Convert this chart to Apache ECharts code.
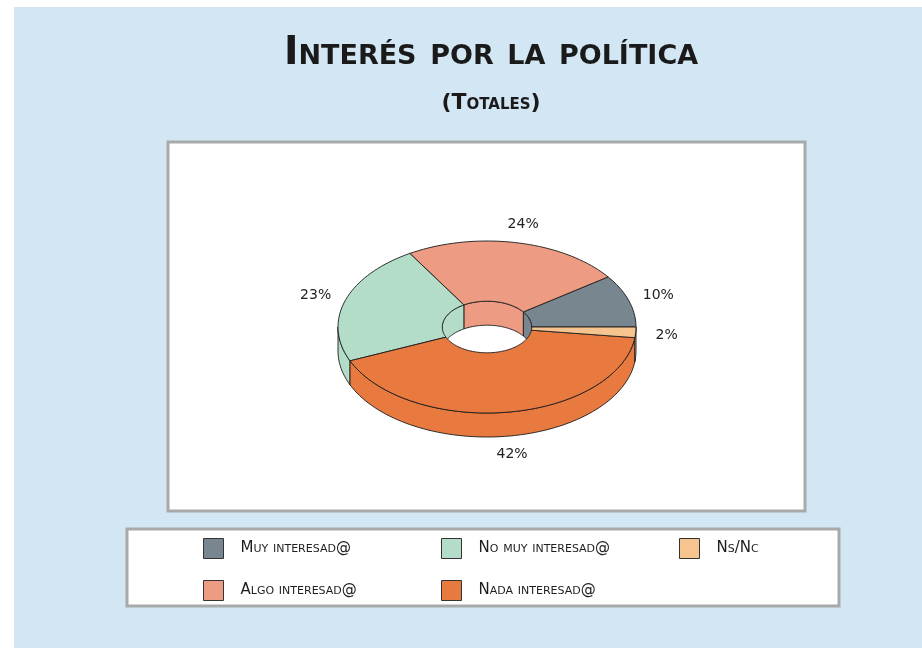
<!DOCTYPE html>
<html>
<head>
<meta charset="utf-8">
<title>Interés por la política</title>
<script src="https://cdn.jsdelivr.net/npm/echarts@6/dist/echarts.min.js"></script>
<style>
html, body { margin: 0; padding: 0; background: #fff; }
#chart { width: 922px; height: 648px; }
</style>
</head>
<body>
<div id="chart"></div>
<script>
const categories = ['Muy interesad@', 'Algo interesad@', 'No muy interesad@', 'Nada interesad@', 'Ns/Nc'];
const percentages = [10, 24, 23, 42, 2];
const sliceColors = ['#78868f', '#ed9b83', '#b3ddc9', '#e87a3f', '#f6c58f'];

const chart = echarts.init(document.getElementById('chart'));

// tilted donut geometry
const cx = 487, cy = 327, rx = 149, ry = 86, hole = 0.3, depth = 24;
const total = percentages.reduce((a, b) => a + b, 0);
const angles = [];
let acc = 0;
percentages.forEach(function (v) {
    const a0 = acc;
    acc += v / total * 360;
    angles.push([a0, acc]);
});

function pt(deg, r, dz) {
    const t = deg * Math.PI / 180;
    return [cx + rx * r * Math.cos(t), cy - ry * r * Math.sin(t) + dz];
}

function arc(a0, a1, r, dz) {
    const n = Math.max(2, Math.ceil(Math.abs(a1 - a0) / 2));
    const out = [];
    for (let i = 0; i <= n; i++) {
        out.push(pt(a0 + (a1 - a0) * i / n, r, dz));
    }
    return out;
}

function renderSlice(idx) {
    return function (params, api) {
        const a0 = angles[idx][0], a1 = angles[idx][1];
        const color = api.visual('color');
        const style = {fill: color, stroke: '#1c1c1c', lineWidth: 0.9};
        const children = [];
        // inner wall, seen through the hole (back half)
        const i0 = Math.max(a0, 0), i1 = Math.min(a1, 180);
        if (i1 > i0) {
            children.push({type: 'polygon', z2: 1, shape: {points: arc(i0, i1, hole, 0).concat(arc(i1, i0, hole, depth))}, style: style});
        }
        // outer wall (front half)
        const o0 = Math.max(a0, 180), o1 = Math.min(a1, 360);
        if (o1 > o0) {
            children.push({type: 'polygon', z2: 2, shape: {points: arc(o0, o1, 1, 0).concat(arc(o1, o0, 1, depth))}, style: style});
        }
        // top face
        children.push({type: 'polygon', z2: 3, shape: {points: arc(a0, a1, 1, 0).concat(arc(a1, a0, hole, 0))}, style: style});
        // percentage label
        const mid = (a0 + a1) / 2 * Math.PI / 180;
        const s = Math.sin(mid);
        children.push({
            type: 'text', z2: 4,
            x: cx + 180 * Math.cos(mid),
            y: cy - 105 * s + depth * Math.max(0, -s),
            style: {
                text: api.value(0) + '%',
                align: 'center', verticalAlign: 'middle',
                fontSize: 14, fontFamily: 'DejaVu Sans', fill: '#222'
            }
        });
        return {type: 'group', children: children};
    };
}

const legendText = {
    fontSize: 15, fontStyle: 'small-caps', fontFamily: 'DejaVu Sans', color: '#1e1e1e',
    padding: [0, 0, 0, 12]
};
function legendAt(left, names) {
    return {
        orient: 'vertical', left: left, top: 538, padding: 0,
        itemWidth: 20, itemHeight: 20, itemGap: 21, icon: 'rect',
        itemStyle: {borderColor: '#333', borderWidth: 1},
        selectedMode: false,
        textStyle: legendText,
        data: names
    };
}

chart.setOption({
    animation: false,
    backgroundColor: '#ffffff',
    title: [
        {
            text: 'Interés por la política', left: 486, top: 29, textAlign: 'center',
            textStyle: {fontSize: 39, fontStyle: 'small-caps', fontWeight: 'bold', fontFamily: 'DejaVu Sans', color: '#1a1a1a'}
        },
        {
            text: '(Totales)', left: 486, top: 87, textAlign: 'center',
            textStyle: {fontSize: 22, fontStyle: 'small-caps', fontWeight: 'bold', fontFamily: 'DejaVu Sans', color: '#1a1a1a'}
        }
    ],
    graphic: [
        {type: 'rect', z: -10, shape: {x: 14, y: 7, width: 908, height: 641}, style: {fill: '#d2e6f4'}},
        {type: 'rect', z: -9, shape: {x: 168, y: 142, width: 637, height: 369}, style: {fill: '#fff', stroke: '#a9a9a9', lineWidth: 3}},
        {type: 'rect', z: -9, shape: {x: 127, y: 529, width: 712, height: 77}, style: {fill: '#fff', stroke: '#a9a9a9', lineWidth: 3}}
    ],
    legend: [
        legendAt(203, [categories[0], categories[1]]),
        legendAt(441, [categories[2], categories[3]]),
        legendAt(679, [categories[4]])
    ],
    series: categories.map(function (name, i) {
        return {
            type: 'custom',
            name: name,
            coordinateSystem: 'none',
            silent: true,
            itemStyle: {color: sliceColors[i]},
            data: [percentages[i]],
            renderItem: renderSlice(i)
        };
    })
});
</script>
</body>
</html>
